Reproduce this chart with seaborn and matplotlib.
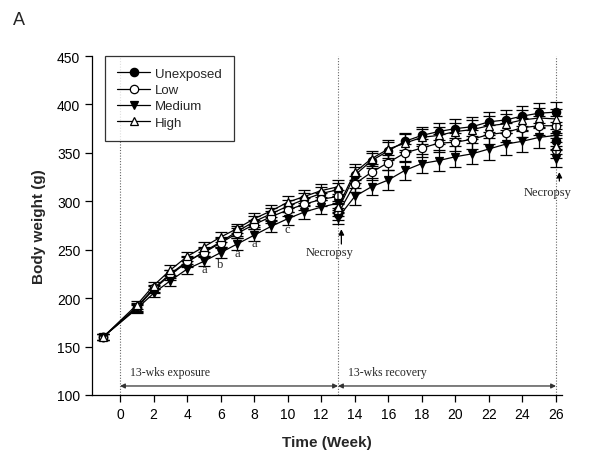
import matplotlib
matplotlib.use("Agg")
import matplotlib.pyplot as plt
import seaborn as sns
import pandas as pd
import numpy as np

weeks = [-1, 1, 2, 3, 4, 5, 6, 7, 8, 9, 10, 11, 12, 13, 13,
         14, 15, 16, 17, 18, 19, 20, 21, 22, 23, 24, 25, 26, 26]

unexposed = [160, 190, 209, 224, 237, 248, 258, 269, 279, 287, 295, 302, 308, 312, 291,
             327, 342, 352, 362, 368, 372, 375, 377, 382, 384, 388, 391, 392, 362]
low = [160, 191, 210, 225, 238, 247, 257, 267, 276, 284, 291, 297, 302, 305, 287,
       318, 330, 340, 350, 355, 360, 361, 364, 369, 371, 376, 378, 378, 353]
medium = [160, 189, 205, 218, 230, 238, 247, 256, 265, 274, 282, 289, 294, 298, 283,
          305, 315, 322, 332, 339, 342, 346, 349, 354, 359, 362, 366, 368, 344]
high = [160, 193, 213, 229, 243, 253, 263, 272, 282, 290, 299, 305, 311, 315, 294,
        330, 344, 354, 360, 366, 368, 372, 374, 378, 380, 384, 386, 385, 357]

err_unexposed = [3, 4, 4, 5, 5, 5, 5, 5, 6, 6, 6, 7, 7, 7, 6,
                 8, 8, 9, 9, 9, 9, 10, 10, 10, 10, 10, 10, 10, 8]
err_low = [3, 4, 4, 4, 5, 5, 5, 5, 5, 6, 6, 6, 7, 7, 6,
           8, 8, 8, 9, 9, 9, 9, 10, 10, 10, 10, 10, 10, 8]
err_medium = [3, 4, 4, 5, 5, 5, 6, 6, 6, 6, 7, 7, 7, 7, 6,
              9, 9, 10, 10, 10, 11, 11, 11, 11, 11, 11, 11, 11, 9]
err_high = [3, 4, 4, 5, 5, 5, 5, 5, 6, 6, 6, 7, 7, 7, 6,
            8, 8, 9, 9, 9, 9, 9, 10, 10, 10, 10, 10, 10, 8]

series_names = ["Unexposed", "Low", "Medium", "High"]
series_values = [unexposed, low, medium, high]
series_errs = [err_unexposed, err_low, err_medium, err_high]
markers = ["o", "o", "v", "^"]
facecolors = ["black", "white", "black", "white"]

sig_weeks = [5, 6, 7, 8, 10]
sig_labels = ["a", "b", "a", "a", "c"]
sig_y = [230, 235, 246.5, 257, 271]

sns.set_style("ticks")
plt.rcParams['font.family'] = ['Liberation Sans', 'DejaVu Sans']

fig = plt.figure(figsize=(5.91, 4.56), dpi=100)
ax = fig.add_axes([0.1557, 0.1316, 0.7953, 0.7434])

serif = ['Liberation Serif', 'DejaVu Serif']

# vertical reference lines
for xv in [0, 13, 26]:
    ax.axvline(xv, color="#666666", lw=0.8, ls=(0, (1, 1.5)), zorder=1)

for name, vals, errs, mk, fc in zip(series_names, series_values, series_errs, markers, facecolors):
    ax.errorbar(weeks, vals, yerr=errs, fmt="none", ecolor="black",
                elinewidth=0.9, capsize=4, capthick=0.9, zorder=2)
    df = pd.DataFrame({"week": weeks, "weight": vals})
    sns.lineplot(data=df, x="week", y="weight", ax=ax, estimator=None, sort=False,
                 color="black", lw=0.9, marker=mk, markersize=6,
                 markerfacecolor=fc, markeredgecolor="black", markeredgewidth=0.9,
                 label=name, zorder=3)

for xw, lab, yv in zip(sig_weeks, sig_labels, sig_y):
    ax.text(xw, yv, lab, family=serif, fontsize=9, ha="center", va="center")

# Necropsy annotations
ax.annotate("", xy=(13.2, 274), xytext=(13.2, 253),
            arrowprops=dict(arrowstyle="-|>", color="black", lw=0.9, mutation_scale=8))
ax.text(12.5, 248, "Necropsy", family=serif, fontsize=9, ha="center", va="center")
ax.annotate("", xy=(26.2, 333), xytext=(26.2, 318),
            arrowprops=dict(arrowstyle="-|>", color="black", lw=0.9, mutation_scale=8))
ax.text(25.5, 310, "Necropsy", family=serif, fontsize=9, ha="center", va="center")

# period arrows
ax.annotate("", xy=(0, 109.3), xytext=(13, 109.3),
            arrowprops=dict(arrowstyle="<|-|>", color="#333333", lw=0.9, mutation_scale=7,
                            shrinkA=0, shrinkB=0))
ax.annotate("", xy=(13, 109.3), xytext=(26, 109.3),
            arrowprops=dict(arrowstyle="<|-|>", color="#333333", lw=0.9, mutation_scale=7,
                            shrinkA=0, shrinkB=0))
ax.text(0.6, 124, "13-wks exposure", family=serif, fontsize=8.5, ha="left", va="center")
ax.text(13.6, 124, "13-wks recovery", family=serif, fontsize=8.5, ha="left", va="center")

ax.set_xlim(-1.67, 26.36)
ax.set_ylim(100, 450)
ax.set_xticks(np.arange(0, 27, 2))
ax.set_yticks(np.arange(100, 451, 50))
ax.tick_params(direction="out", length=5, width=0.9, labelsize=10, colors="black")
for s in ["top", "right"]:
    ax.spines[s].set_visible(False)
for s in ["left", "bottom"]:
    ax.spines[s].set_linewidth(0.9)
    ax.spines[s].set_color("black")

ax.set_xlabel("Time (Week)", fontsize=11, fontweight="bold", labelpad=10)
ax.set_ylabel("Body weight (g)", fontsize=11, fontweight="bold", labelpad=8)

leg = ax.legend(loc="upper left", bbox_to_anchor=(0.028, 1.0), borderaxespad=0,
                frameon=True, fancybox=False, edgecolor="black", fontsize=9.5,
                handlelength=2.5, handletextpad=0.4, labelspacing=0.3, borderpad=0.9)
leg.get_frame().set_linewidth(0.9)

fig.text(0.022, 0.955, "A", fontsize=13, ha="left", va="center")

fig.savefig("out.png", dpi=100)
